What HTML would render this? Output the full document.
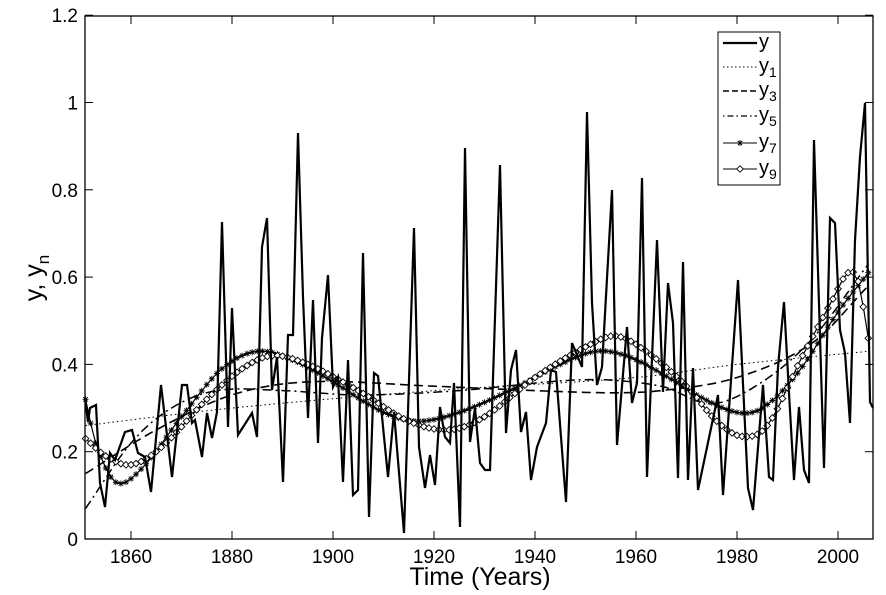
<!DOCTYPE html>
<html><head><meta charset="utf-8"><style>
html,body{margin:0;padding:0;background:#fff;}
svg{display:block;font-family:"Liberation Sans",Arial,sans-serif;}
</style></head><body>
<svg id="s" width="886" height="595" viewBox="0 0 886 595" xmlns="http://www.w3.org/2000/svg">
<rect width="886" height="595" fill="#fff"/>
<g id="plot"></g>
<rect x="85" y="16" width="788" height="523" fill="none" stroke="#000" stroke-width="1.3"/>
<g id="ticks" stroke="#000" stroke-width="1"></g>
<g font-size="19" fill="#000" id="labels"></g>
<text x="480" y="585" font-size="25" text-anchor="middle">Time (Years)</text>
<text transform="translate(42,278) rotate(-90)" font-size="25" text-anchor="middle">y, y<tspan font-size="17" dy="7">n</tspan></text>
<g id="legend">
<rect x="718" y="32" width="62" height="153" fill="#fff" stroke="#000" stroke-width="1"/>
</g>
</svg>
<script>
var NS="http://www.w3.org/2000/svg";
function X(yr){return 131+(yr-1860)*5.05;}
function Y(v){return 539-v*436.5;}
function el(p,tag,a){var e=document.createElementNS(NS,tag);for(var k in a)e.setAttribute(k,a[k]);p.appendChild(e);return e;}
var plot=document.getElementById('plot'),ticks=document.getElementById('ticks'),labels=document.getElementById('labels');
for(var i=0;i<=6;i++){var v=i*0.2,y=Y(v);
 el(ticks,'line',{x1:85,y1:y,x2:93,y2:y});el(ticks,'line',{x1:873,y1:y,x2:865,y2:y});
 var t=el(labels,'text',{x:78,y:y+7,'text-anchor':'end'});t.textContent=(i==0?'0':i==5?'1':(Math.round(v*10)/10).toString());}
for(var yr=1860;yr<=2000;yr+=20){var x=X(yr);
 el(ticks,'line',{x1:x,y1:539,x2:x,y2:531});el(ticks,'line',{x1:x,y1:16,x2:x,y2:24});
 var t=el(labels,'text',{x:x,y:563,'text-anchor':'middle'});t.textContent=yr;}
var raw=[85,398,88,422,90,408,96,405,100,483,105,507,110,453,115,460,125,432,132,430,138,453,145,457,151,492,161,385,172,477,182,385,187,385,192,423,195,420,202,457,207,413,212,438,217,412,222,222,228,427,232,308,238,435,252,413,257,437,262,247,267,218,272,390,277,357,283,482,288,335,293,335,298,133,303,297,308,418,313,300,318,443,322,338,328,275,333,387,338,377,343,482,348,360,353,495,358,490,363,253,369,517,374,373,378,376,388,477,394,412,404,533,414,228,419,447,425,488,430,455,435,485,440,407,445,437,450,443,454,383,460,527,465,148,470,442,475,408,480,463,485,470,490,470,500,165,506,433,511,370,516,350,521,432,526,412,531,480,537,447,546,423,551,370,556,372,566,502,572,343,582,367,587,112,592,303,597,385,602,367,612,190,617,445,627,327,632,403,637,383,642,178,647,477,657,240,663,392,668,283,673,323,678,478,683,262,688,480,693,368,698,490,718,395,723,495,738,280,748,488,753,510,763,385,769,477,773,480,778,367,784,302,789,393,794,480,799,407,804,470,809,483,814,140,824,468,830,218,835,223,840,330,845,353,850,423,855,240,860,157,865,103,870,402,873,408];
var pts=[];for(var i=0;i<raw.length;i+=2)pts.push(raw[i]+','+raw[i+1]);
function spline(kp){var out=[];for(var yr=1851;yr<=2006.5;yr+=1){var j=0;while(j<kp.length-2&&kp[j+1][0]<yr)j++;
 var p0=kp[Math.max(j-1,0)],p1=kp[j],p2=kp[j+1],p3=kp[Math.min(j+2,kp.length-1)];
 var t=(yr-p1[0])/(p2[0]-p1[0]);t=Math.max(0,Math.min(1,t));
 var m1=(p2[1]-p0[1])/(p2[0]-p0[0])*(p2[0]-p1[0]),m2=(p3[1]-p1[1])/(p3[0]-p1[0])*(p2[0]-p1[0]);
 var t2=t*t,t3=t2*t;var v=(2*t3-3*t2+1)*p1[1]+(t3-2*t2+t)*m1+(-2*t3+3*t2)*p2[1]+(t3-t2)*m2;
 out.push([X(yr),Y(v)]);}return out;}
var y1=spline([[1851,.26],[1880,.30],[1920,.34],[1960,.37],[1980,.40],[2006,.43]]);
var y3=spline([[1851,.15],[1865,.25],[1880,.33],[1895,.36],[1920,.35],[1940,.34],[1955,.335],[1965,.34],[1980,.37],[1995,.45],[2006,.58]]);
var y5=spline([[1851,.07],[1860,.22],[1868,.30],[1877,.34],[1890,.34],[1905,.33],[1925,.34],[1950,.365],[1965,.35],[1975,.31],[1985,.36],[1995,.46],[2006,.63]]);
var y7=spline([[1851,.32],[1853,.22],[1857,.13],[1862,.16],[1870,.28],[1878,.39],[1885,.43],[1892,.41],[1900,.36],[1910,.29],[1917,.27],[1925,.29],[1935,.34],[1945,.40],[1952,.43],[1958,.42],[1965,.38],[1972,.33],[1980,.29],[1985,.30],[1992,.38],[2000,.52],[2006,.61]]);
var y9=spline([[1851,.23],[1855,.19],[1860,.17],[1866,.21],[1875,.32],[1882,.39],[1888,.42],[1895,.40],[1905,.34],[1915,.27],[1923,.25],[1930,.28],[1940,.37],[1950,.44],[1956,.465],[1962,.43],[1970,.35],[1976,.27],[1981,.235],[1986,.26],[1993,.42],[1999,.55],[2002,.61],[2004,.59],[2006,.46]]);
function pl(arr,a){a.points=arr.map(function(p){return p[0].toFixed(1)+','+p[1].toFixed(1)}).join(' ');a.fill='none';a.stroke='#000';el(plot,'polyline',a);}
pl(y1,{'stroke-width':1,'stroke-dasharray':'1.5,3'});
pl(y3,{'stroke-width':1.6,'stroke-dasharray':'9,5'});
pl(y5,{'stroke-width':1.5,'stroke-dasharray':'9,4,2,4'});
pl(y7,{'stroke-width':1.2});
pl(y9,{'stroke-width':1.2});
y7.forEach(function(p){star(plot,p[0],p[1]);});
y9.forEach(function(p){diam(plot,p[0],p[1]);});
el(plot,'polyline',{points:pts.join(' '),fill:'none',stroke:'#000','stroke-width':2.2,'stroke-linejoin':'miter'});
function star(g,x,y){var r=3;el(g,'path',{d:'M'+(x-r)+','+y+'h'+2*r+'M'+x+','+(y-r)+'v'+2*r+'M'+(x-2.2)+','+(y-2.2)+'l4.4,4.4M'+(x-2.2)+','+(y+2.2)+'l4.4,-4.4',stroke:'#000','stroke-width':0.9,fill:'none'});}
function diam(g,x,y){var r=3.3;el(g,'path',{d:'M'+x+','+(y-r)+'L'+(x+r)+','+y+'L'+x+','+(y+r)+'L'+(x-r)+','+y+'Z',stroke:'#000','stroke-width':0.9,fill:'#fff'});}
var lg=document.getElementById('legend');
var rows=[43,67,91,116,143,169],names=['','1','3','5','7','9'];
var styles=[{'stroke-width':2.2},{'stroke-width':1,'stroke-dasharray':'1.5,2.5'},{'stroke-width':1.6,'stroke-dasharray':'6,3'},{'stroke-width':1.3,'stroke-dasharray':'1.5,3,6,3'},{'stroke-width':1},{'stroke-width':1}];
rows.forEach(function(y,i){var a=styles[i];a.x1=723;a.x2=757;a.y1=y;a.y2=y;a.stroke='#000';el(lg,'line',a);
 if(i==4)star(lg,740,y);if(i==5)diam(lg,740,y);
 var t=el(lg,'text',{x:759,y:y+5,'font-size':20});t.textContent='y';
 if(names[i]){var s=el(t,'tspan',{'font-size':14,dy:5});s.textContent=names[i];}});
</script>
</body></html>
